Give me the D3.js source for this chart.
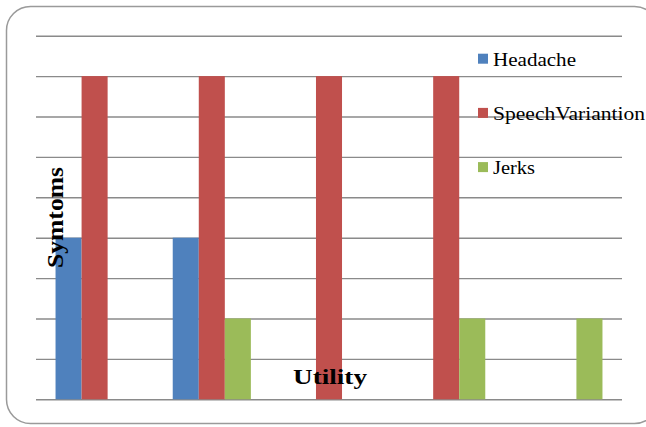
<!DOCTYPE html>
<html>
<head>
<meta charset="utf-8">
<script src="https://cdn.jsdelivr.net/npm/d3@7"></script>
<style>
  html, body { margin: 0; padding: 0; background: #fff; }
  svg { display: block; }
  text { font-family: "Liberation Serif", "DejaVu Serif", serif; }
</style>
</head>
<body>
<svg id="chart"></svg>
<script>
// chart data
var aCategories = ["A", "B", "C", "D", "E"];
var aSeriesNames = ["Headache", "SpeechVariantion", "Jerks"];
var aHeadache = [4, 4, 0, 0, 0];
var aSpeech = [8, 8, 8, 8, 0];
var aJerks = [0, 2, 0, 2, 2];
var aTicks = [0, 1, 2, 3, 4, 5, 6, 7, 8, 9];
var aColors = ["#4f81bd", "#c0504d", "#9bbb59"];

var iWidth = 646, iHeight = 427;
var oPlot = { left: 36, right: 622, top: 35.7, bottom: 399.3 };

var oSvg = d3.select("#chart").attr("width", iWidth).attr("height", iHeight);

// outer rounded frame (runs off the right edge in the original)
oSvg.append("rect")
  .attr("x", 6.5).attr("y", 6.5)
  .attr("width", 652).attr("height", 417)
  .attr("rx", 24).attr("ry", 24)
  .attr("fill", "#fff")
  .attr("stroke", "#9a9a9a")
  .attr("stroke-width", 1.5);

var oScaleX = d3.scaleBand()
  .domain(aCategories)
  .range([oPlot.left, oPlot.right])
  .paddingInner(1 / 3)
  .paddingOuter(1 / 6);

var oScaleSeries = d3.scaleBand()
  .domain(aSeriesNames)
  .range([0, oScaleX.bandwidth()]);

var oScaleY = d3.scaleLinear()
  .domain([0, 9])
  .range([oPlot.bottom, oPlot.top]);

// gridlines
var oGrid = oSvg.append("g")
  .attr("transform", "translate(" + oPlot.left + ",0)")
  .call(d3.axisLeft(oScaleY).tickValues(aTicks)
    .tickSize(-(oPlot.right - oPlot.left)).tickFormat(""));
oGrid.select(".domain").remove();
oGrid.selectAll(".tick line")
  .attr("stroke", "#8a8a8a")
  .attr("stroke-width", 1.4);

// bars
var aSeries = [aHeadache, aSpeech, aJerks];
aSeries.forEach(function (aValues, i) {
  oSvg.append("g")
    .attr("fill", aColors[i])
    .selectAll("rect")
    .data(aValues.map(function (v, j) { return { cat: aCategories[j], value: v }; }))
    .enter().append("rect")
    .filter(function (d) { return d.value > 0; })
    .attr("x", function (d) { return oScaleX(d.cat) + oScaleSeries(aSeriesNames[i]); })
    .attr("y", function (d) { return oScaleY(d.value); })
    .attr("width", oScaleSeries.bandwidth())
    .attr("height", function (d) { return oScaleY(0) - oScaleY(d.value); });
});

// legend
var aLegendWidths = [83, 152, 42];
var oLegend = oSvg.append("g").attr("transform", "translate(478,0)");
aSeriesNames.forEach(function (sName, i) {
  var y = 65.7 + i * 54.2;
  oLegend.append("rect")
    .attr("x", 0).attr("y", y - 12)
    .attr("width", 10).attr("height", 10)
    .attr("fill", aColors[i]);
  oLegend.append("text")
    .attr("x", 15).attr("y", y)
    .attr("font-size", 19)
    .attr("textLength", aLegendWidths[i])
    .attr("lengthAdjust", "spacingAndGlyphs")
    .attr("fill", "#000")
    .text(sName);
});

// axis titles
oSvg.append("text")
  .attr("x", 293).attr("y", 383.5)
  .attr("font-weight", "bold")
  .attr("font-size", 20)
  .attr("textLength", 74)
  .attr("lengthAdjust", "spacingAndGlyphs")
  .text("Utility");

oSvg.append("text")
  .attr("transform", "translate(63,268) rotate(-90)")
  .attr("font-weight", "bold")
  .attr("font-size", 23)
  .attr("textLength", 101)
  .attr("lengthAdjust", "spacingAndGlyphs")
  .text("Symtoms");
</script>
</body>
</html>
